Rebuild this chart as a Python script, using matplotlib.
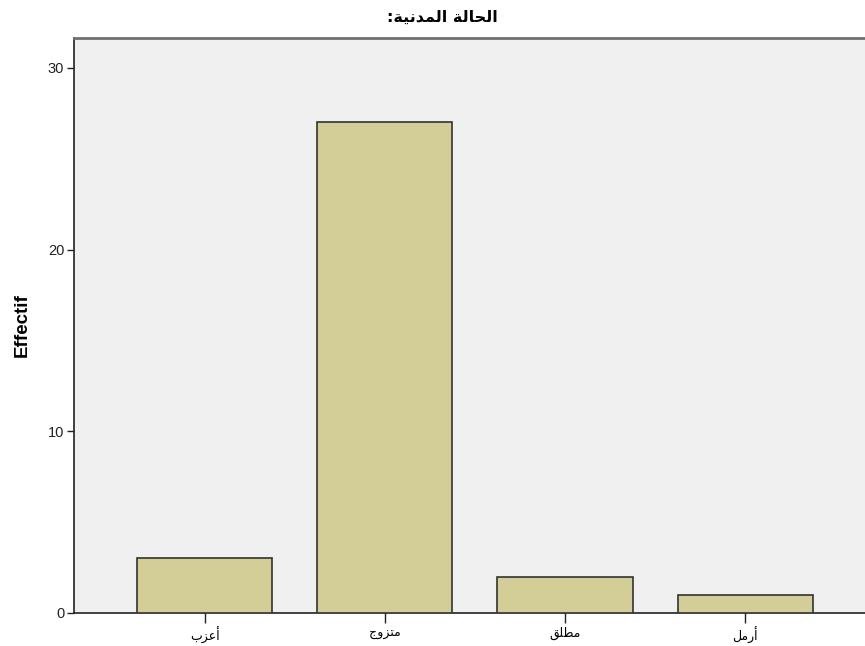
import matplotlib
matplotlib.use("Agg")
import matplotlib.pyplot as plt

# ---- data ----
title_text = "الحالة المدنية:"
categories = ["أعزب", "متزوج", "مطلق", "أرمل"]
counts = [3, 27, 2, 1]
y_label = "Effectif"
y_ticks = [0, 10, 20, 30]

# ---- minimal Arabic shaping (presentation forms) + RTL order ----
FORMS = {
    "\u0627": ("\uFE8D", "\uFE8E", None, None),
    "\u0623": ("\uFE83", "\uFE84", None, None),
    "\u0628": ("\uFE8F", "\uFE90", "\uFE91", "\uFE92"),
    "\u0629": ("\uFE93", "\uFE94", None, None),
    "\u062A": ("\uFE95", "\uFE96", "\uFE97", "\uFE98"),
    "\u062C": ("\uFE9D", "\uFE9E", "\uFE9F", "\uFEA0"),
    "\u062D": ("\uFEA1", "\uFEA2", "\uFEA3", "\uFEA4"),
    "\u062F": ("\uFEA9", "\uFEAA", None, None),
    "\u0631": ("\uFEAD", "\uFEAE", None, None),
    "\u0632": ("\uFEAF", "\uFEB0", None, None),
    "\u0637": ("\uFEC1", "\uFEC2", "\uFEC3", "\uFEC4"),
    "\u0639": ("\uFEC9", "\uFECA", "\uFECB", "\uFECC"),
    "\u0642": ("\uFED5", "\uFED6", "\uFED7", "\uFED8"),
    "\u0644": ("\uFEDD", "\uFEDE", "\uFEDF", "\uFEE0"),
    "\u0645": ("\uFEE1", "\uFEE2", "\uFEE3", "\uFEE4"),
    "\u0646": ("\uFEE5", "\uFEE6", "\uFEE7", "\uFEE8"),
    "\u0648": ("\uFEED", "\uFEEE", None, None),
    "\u064A": ("\uFEF1", "\uFEF2", "\uFEF3", "\uFEF4"),
}


def joins_next(ch):
    f = FORMS.get(ch)
    return f is not None and f[2] is not None


def shape(s):
    out = []
    for i, ch in enumerate(s):
        if ch not in FORMS:
            out.append(ch)
            continue
        prev = s[i - 1] if i > 0 else ""
        nxt = s[i + 1] if i + 1 < len(s) else ""
        from_prev = joins_next(prev)
        to_next = joins_next(ch) and nxt in FORMS
        iso, fin, ini, med = FORMS[ch]
        if from_prev and to_next:
            out.append(med)
        elif from_prev:
            out.append(fin)
        elif to_next:
            out.append(ini)
        else:
            out.append(iso)
    return "".join(out)[::-1]


FAM = ["Liberation Sans", "DejaVu Sans"]
plt.rcParams["font.family"] = FAM

fig = plt.figure(figsize=(8.65, 6.46), dpi=100)
fig.patch.set_facecolor("white")
ax = fig.add_axes([74 / 865, 33 / 646, 1 - 74 / 865, (613 - 38) / 646])
ax.set_facecolor("#F0F0F0")

x = list(range(len(categories)))
ax.bar(x, counts, width=0.75, color="#D3CE97", edgecolor="#333333",
       linewidth=1.2, zorder=3)

ax.set_xlim(-0.725, 3.665)
ax.set_ylim(0, 31.65)
ax.set_yticks(y_ticks)
ax.set_yticklabels([str(t) for t in y_ticks], fontsize=10.5, color="#222222")
ax.set_xticks(x)
ax.set_xticklabels([shape(c) for c in categories], fontsize=9,
                   family=["DejaVu Sans"])
ax.tick_params(axis="y", direction="out", length=5, width=1, color="#222222", pad=2)
ax.tick_params(axis="x", direction="out", length=7, width=1, color="#222222", pad=3)

for side in ["left", "bottom"]:
    ax.spines[side].set_color("#222222")
    ax.spines[side].set_linewidth(1.2)
ax.spines["top"].set_color("#707070")
ax.spines["top"].set_linewidth(2)
ax.spines["right"].set_visible(False)

ax.set_ylabel(y_label, fontsize=13.5, fontweight="bold")
ax.yaxis.set_label_coords(-(74 - 22) / 791, 0.5)
ax.yaxis.label.set_va("center")

fig.text(0.5 + 10 / 865, 1 - 17 / 646, shape(title_text), ha="center", va="center",
         fontsize=11.5, fontweight="bold", family=["DejaVu Sans"])

fig.savefig("out.png", dpi=100, facecolor="white")
